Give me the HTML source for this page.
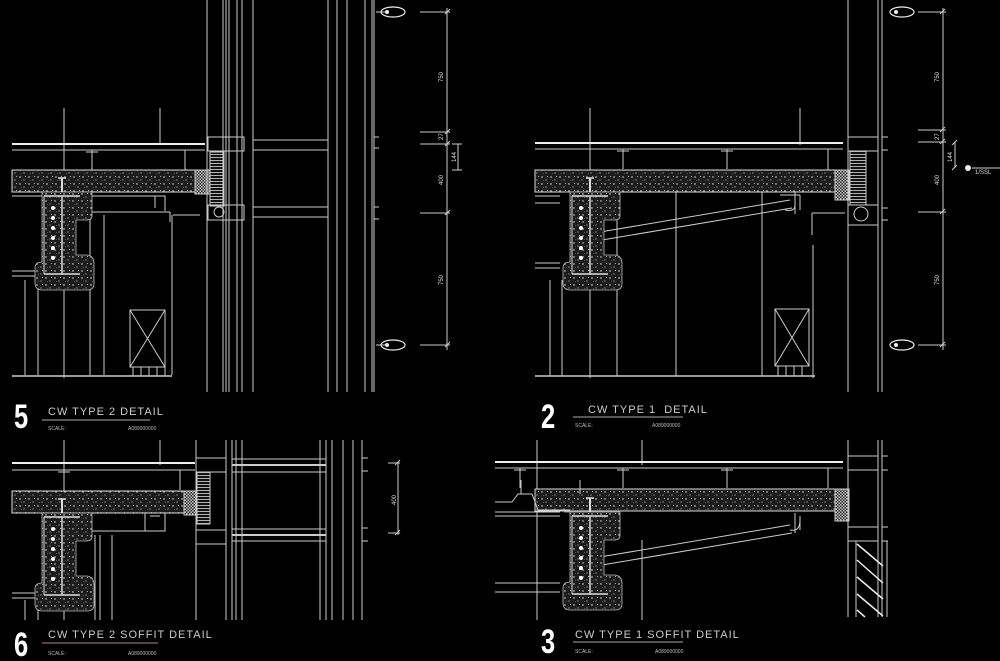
<!DOCTYPE html>
<html><head><meta charset="utf-8"><style>
html,body{margin:0;padding:0;background:#000;width:1000px;height:661px;overflow:hidden}
svg{display:block}
text{font-family:"Liberation Sans",sans-serif;fill:#ddd}
.n{font-family:"Liberation Sans",sans-serif;font-weight:bold;font-size:34px;fill:#fff}
.t{font-size:11px;letter-spacing:1px;fill:#ccc}
.s{font-size:5px;fill:#bbb}
.d{font-size:6px;fill:#bbb}
</style></head><body>
<svg width="1000" height="661" viewBox="0 0 1000 661" xmlns="http://www.w3.org/2000/svg">
<defs>
<pattern id="sp" width="9" height="7" patternUnits="userSpaceOnUse">
<rect width="9" height="7" fill="#1c1c1c"/>
<circle cx="2" cy="2" r="0.7" fill="#eee"/><circle cx="6" cy="5" r="0.6" fill="#bbb"/><circle cx="7.5" cy="1.5" r="0.5" fill="#ddd"/><circle cx="3.5" cy="5.5" r="0.4" fill="#999"/>
</pattern>
<pattern id="ck" width="3" height="3" patternUnits="userSpaceOnUse">
<rect width="3" height="3" fill="#222"/><rect width="1.5" height="1.5" fill="#ccc"/><rect x="1.5" y="1.5" width="1.5" height="1.5" fill="#ccc"/>
</pattern>
<pattern id="ins" width="4" height="3" patternUnits="userSpaceOnUse">
<rect width="4" height="3" fill="#111"/><line x1="0" y1="1.5" x2="4" y2="1.5" stroke="#ddd" stroke-width="0.8"/>
</pattern>
<g id="beam" stroke="#ddd" stroke-width="1" fill="none">
<path d="M-26,0 H30 V24 Q30,28 24,28 H14 V63 H24 Q32,63 32,72 V92 Q32,98 25,98 H-20 Q-27,98 -27,91 V76 Q-27,70 -20,70 V0" fill="url(#sp)" stroke="#bbb" stroke-width="0.8"/>
<line x1="-18" y1="4" x2="18" y2="4" stroke-width="1.5"/>
<line x1="0" y1="4" x2="0" y2="82" stroke-width="1.5"/>
<line x1="-18" y1="82" x2="18" y2="82" stroke-width="1.5"/>
<line x1="-18" y1="4" x2="-18" y2="82"/>
<g fill="#fff" stroke="none"><circle cx="-9" cy="16" r="2"/><circle cx="-9" cy="26" r="2"/><circle cx="-9" cy="36" r="2"/><circle cx="-9" cy="46" r="2"/><circle cx="-9" cy="56" r="2"/><circle cx="-9" cy="66" r="2"/></g>
<line x1="0" y1="-14" x2="0" y2="0" stroke-width="2"/><line x1="-4" y1="-14" x2="4" y2="-14" stroke-width="1.5"/>
</g>
<g id="oval"><ellipse cx="0" cy="0" rx="12" ry="5" fill="none" stroke="#eee" stroke-width="1.2"/><circle cx="-6" cy="0" r="2" fill="#eee"/></g>
</defs>

<g stroke="#ccc" stroke-width="1" fill="none">
<!-- ===== PANEL 5 ===== -->
<line x1="64" y1="108" x2="64" y2="378"/><line x1="160" y1="108" x2="160" y2="145"/>
<line x1="12" y1="144" x2="205" y2="144" stroke="#eee" stroke-width="2"/>
<line x1="12" y1="150" x2="205" y2="150"/>
<line x1="185" y1="150" x2="185" y2="170"/>
<path d="M92,150 v20 M86,152 h12"/>
<rect x="12" y="170" width="183" height="22" fill="url(#sp)" stroke="#ddd"/>
<rect x="195" y="170" width="15" height="24" fill="url(#ck)"/>
<path d="M12,196 H165 V211 M155,196 v12 M90,212 H170 M170,212 v10 M173,215 H200 M172,215 V250 M172,250 V375"/>
<line x1="12" y1="271" x2="40" y2="271"/><line x1="12" y1="276" x2="40" y2="276"/>
<line x1="25" y1="280" x2="25" y2="375"/><line x1="38" y1="280" x2="38" y2="375"/>
<line x1="90" y1="215" x2="90" y2="375"/><line x1="104" y1="215" x2="104" y2="375"/>
<use href="#beam" x="62" y="192"/>
<rect x="130" y="310" width="35" height="57"/><path d="M130,310 L165,367 M165,310 L130,367"/>
<path d="M133,367 v9 M141,367 v9 M149,367 v9 M157,367 v9 M165,367 v9"/>
<line x1="12" y1="376" x2="172" y2="376" stroke-width="1.5"/>
<rect x="208" y="137" width="36" height="14"/><rect x="210" y="152" width="14" height="54" fill="url(#ins)"/>
<rect x="208" y="205" width="36" height="15"/><circle cx="219" cy="212" r="5"/>
<line x1="207" y1="0" x2="207" y2="392"/><line x1="223" y1="0" x2="223" y2="392"/><line x1="226" y1="0" x2="226" y2="392"/>
<line x1="229" y1="0" x2="229" y2="392"/><line x1="237" y1="0" x2="237" y2="392"/><line x1="242" y1="0" x2="242" y2="392"/>
<line x1="253" y1="0" x2="253" y2="392"/>
<line x1="253" y1="140" x2="328" y2="140"/><line x1="253" y1="150" x2="328" y2="150"/>
<line x1="253" y1="207" x2="328" y2="207"/><line x1="253" y1="217" x2="328" y2="217"/>
<line x1="328" y1="0" x2="328" y2="392"/><line x1="337" y1="0" x2="337" y2="392"/><line x1="347" y1="0" x2="347" y2="392"/>
<line x1="365" y1="0" x2="365" y2="392"/><line x1="372" y1="0" x2="372" y2="392"/><line x1="374" y1="0" x2="374" y2="392"/>
<path d="M374,137 h5 M374,148 h5 M374,207 h5 M374,219 h5"/>
<line x1="385" y1="12" x2="376" y2="12"/><line x1="385" y1="345" x2="376" y2="345"/>
<line x1="447" y1="8" x2="447" y2="350"/>
<path d="M420,12 h30 M420,132 h30 M420,144 h30 M420,213 h30 M420,345 h30 M445,14 l5,-5 M445,134 l5,-5 M445,146 l5,-5 M445,215 l5,-5 M445,347 l5,-5"/>
<line x1="458" y1="144" x2="458" y2="170"/><path d="M452,144 h10 M452,170 h10"/>

<!-- ===== PANEL 2 ===== -->
<line x1="590" y1="108" x2="590" y2="378"/><line x1="800" y1="108" x2="800" y2="145"/>
<line x1="535" y1="143" x2="843" y2="143" stroke="#eee" stroke-width="2"/>
<line x1="535" y1="149" x2="843" y2="149"/>
<line x1="828" y1="149" x2="828" y2="170"/>
<path d="M623,149 v20 M617,151 h12 M727,149 v20 M721,151 h12"/>
<rect x="535" y="170" width="300" height="22" fill="url(#sp)" stroke="#ddd"/>
<rect x="835" y="170" width="14" height="30" fill="url(#ck)"/>
<path d="M535,196 H560 M535,203 H560 M795,192 v22 M780,195 H800 M800,195 v15 M812,213 H845 M812,213 V235 M813,245 V378"/>
<path d="M600,232 L790,200 M602,240 L792,208 M785,210 Q795,212 795,205"/>
<line x1="535" y1="263" x2="560" y2="263"/><line x1="535" y1="268" x2="560" y2="268"/>
<line x1="550" y1="280" x2="550" y2="376"/><line x1="562" y1="280" x2="562" y2="376"/>
<line x1="617" y1="200" x2="617" y2="376"/><line x1="676" y1="192" x2="676" y2="376"/><line x1="762" y1="192" x2="762" y2="376"/>
<use href="#beam" x="590" y="192"/>
<rect x="775" y="309" width="34" height="57"/><path d="M775,309 L809,366 M809,309 L775,366"/>
<path d="M778,366 v10 M786,366 v10 M794,366 v10 M802,366 v10"/>
<line x1="535" y1="376" x2="815" y2="376" stroke-width="1.5"/>
<rect x="848" y="137" width="30" height="14"/><rect x="850" y="151" width="16" height="54" fill="url(#ins)"/>
<rect x="848" y="205" width="30" height="20"/><circle cx="861" cy="214" r="7"/>
<line x1="848" y1="0" x2="848" y2="392"/><line x1="878" y1="0" x2="878" y2="392"/><line x1="882" y1="0" x2="882" y2="392"/>
<path d="M882,137 h6 M882,150 h6 M882,208 h6 M882,220 h6"/>
<line x1="943" y1="8" x2="943" y2="350"/>
<path d="M918,12 h28 M918,130 h28 M918,142 h28 M918,212 h28 M918,345 h28 M940,14 l5,-5 M940,132 l5,-5 M940,144 l5,-5 M940,214 l5,-5 M940,347 l5,-5"/>
<line x1="955" y1="142" x2="955" y2="168"/><path d="M952,145 l5,-5 M952,170 l5,-5"/>
<line x1="972" y1="168" x2="1000" y2="168"/>

<!-- ===== PANEL 6 ===== -->
<line x1="64" y1="440" x2="64" y2="620"/><line x1="160" y1="440" x2="160" y2="465"/>
<line x1="12" y1="463" x2="195" y2="463" stroke="#eee" stroke-width="2"/>
<line x1="12" y1="470" x2="195" y2="470"/>
<line x1="180" y1="470" x2="180" y2="490"/>
<path d="M64,470 v20 M58,472 h12"/>
<rect x="12" y="491" width="172" height="22" fill="url(#sp)" stroke="#ddd"/>
<rect x="184" y="491" width="12" height="24" fill="url(#ck)"/>
<rect x="197" y="472" width="13" height="52" fill="url(#ins)"/>
<rect x="196" y="458" width="30" height="14"/><rect x="196" y="530" width="30" height="14"/>
<path d="M145,513 v18 H165 V513 M150,516 H160 M90,531 H150"/>
<line x1="12" y1="593" x2="40" y2="593"/><line x1="12" y1="598" x2="40" y2="598"/>
<line x1="25" y1="600" x2="25" y2="620"/><line x1="38" y1="600" x2="38" y2="620"/>
<line x1="95" y1="535" x2="95" y2="620"/><line x1="100" y1="535" x2="100" y2="620"/><line x1="112" y1="535" x2="112" y2="620"/>
<use href="#beam" x="62" y="513"/>
<line x1="196" y1="440" x2="196" y2="620"/><line x1="226" y1="440" x2="226" y2="620"/><line x1="232" y1="440" x2="232" y2="620"/>
<line x1="236" y1="440" x2="236" y2="620"/><line x1="242" y1="440" x2="242" y2="620"/>
<line x1="232" y1="459" x2="326" y2="459"/><line x1="232" y1="465" x2="326" y2="465" stroke-width="2"/><line x1="232" y1="472" x2="326" y2="472"/>
<line x1="232" y1="529" x2="326" y2="529"/><line x1="232" y1="535" x2="326" y2="535" stroke-width="2"/><line x1="232" y1="541" x2="326" y2="541"/>
<line x1="320" y1="440" x2="320" y2="620"/><line x1="326" y1="440" x2="326" y2="620"/><line x1="332" y1="440" x2="332" y2="620"/>
<line x1="343" y1="440" x2="343" y2="620"/><line x1="353" y1="440" x2="353" y2="620"/><line x1="362" y1="440" x2="362" y2="620"/>
<path d="M362,458 h6 M362,471 h6 M362,528 h6 M362,541 h6"/>
<line x1="398" y1="462" x2="398" y2="535"/>
<path d="M388,463 h12 M388,533 h12 M395,465 l5,-5 M395,535 l5,-5"/>

<!-- ===== PANEL 3 ===== -->
<line x1="537" y1="440" x2="537" y2="620"/><line x1="642" y1="440" x2="642" y2="465"/>
<line x1="495" y1="462" x2="843" y2="462" stroke="#eee" stroke-width="2"/>
<line x1="495" y1="468" x2="843" y2="468"/>
<line x1="828" y1="468" x2="828" y2="488"/>
<path d="M520,468 v20 M514,470 h12 M623,468 v20 M617,470 h12 M727,468 v20 M721,470 h12"/>
<rect x="535" y="489" width="300" height="22" fill="url(#sp)" stroke="#ddd"/>
<rect x="835" y="489" width="14" height="32" fill="url(#ck)"/>
<path d="M495,502 H512 L518,494 H532 L538,510 H570 M521,494 v-14 M580,494 v-14 M495,512 H560 M495,516 H560"/>
<path d="M600,557 L790,525 M602,565 L792,533 M795,513 v20 M790,530 Q800,532 800,520 M800,516 V530"/>
<line x1="495" y1="583" x2="560" y2="583"/><line x1="495" y1="592" x2="560" y2="592"/>
<line x1="537" y1="600" x2="537" y2="620"/><line x1="642" y1="540" x2="642" y2="620"/>
<use href="#beam" x="590" y="512"/>
<rect x="848" y="456" width="30" height="14"/><rect x="848" y="527" width="30" height="14"/>
<line x1="848" y1="440" x2="848" y2="617"/><line x1="878" y1="440" x2="878" y2="617"/><line x1="882" y1="440" x2="882" y2="617"/>
<line x1="856" y1="541" x2="856" y2="617"/><line x1="887" y1="541" x2="887" y2="617"/>
<path d="M882,456 h6 M882,470 h6 M882,527 h6 M882,541 h6"/>
<g stroke="#eee" stroke-width="1.5"><path d="M857,544 L883,566 M857,560 L883,583 M857,577 L883,599 M857,594 L883,616 M857,610 L865,617"/></g>

<line x1="42" y1="420" x2="150" y2="420" stroke="#aaa"/>
<line x1="573" y1="417" x2="683" y2="417" stroke="#aaa"/>
<line x1="42" y1="643" x2="158" y2="643" stroke="#a88"/>
<line x1="573" y1="642" x2="683" y2="642" stroke="#aaa"/>
</g>

<use href="#oval" x="393" y="12"/><use href="#oval" x="393" y="345"/>
<use href="#oval" x="902" y="12"/><use href="#oval" x="902" y="345"/>
<circle cx="968" cy="168" r="3" fill="#eee"/>

<g class="d">
<text transform="translate(443,82) rotate(-90)">750</text>
<text transform="translate(443,185) rotate(-90)">400</text>
<text transform="translate(443,285) rotate(-90)">750</text>
<text transform="translate(456,162) rotate(-90)">144</text>
<text transform="translate(443,140) rotate(-90)">27</text>
<text transform="translate(939,82) rotate(-90)">750</text>
<text transform="translate(939,185) rotate(-90)">400</text>
<text transform="translate(939,285) rotate(-90)">750</text>
<text transform="translate(952,162) rotate(-90)">144</text>
<text transform="translate(939,140) rotate(-90)">27</text>
<text x="975" y="174">1/SSL</text>
<text transform="translate(396,505) rotate(-90)">400</text>
</g>

<text class="n" transform="translate(14,428) scale(0.75,1)">5</text>
<text class="t" x="48" y="415">CW TYPE 2 DETAIL</text>
<text class="s" x="48" y="430">SCALE:</text><text class="s" x="128" y="430">A089000000</text>

<text class="n" transform="translate(541,428) scale(0.75,1)">2</text>
<text class="t" x="588" y="413">CW TYPE 1&#160; DETAIL</text>
<text class="s" x="575" y="427">SCALE:</text><text class="s" x="652" y="427">A089000000</text>

<text class="n" transform="translate(14,656) scale(0.75,1)">6</text>
<text class="t" x="48" y="638">CW TYPE 2 SOFFIT DETAIL</text>
<text class="s" x="48" y="655">SCALE:</text><text class="s" x="128" y="655">A089000000</text>

<text class="n" transform="translate(541,653) scale(0.75,1)">3</text>
<text class="t" x="575" y="638">CW TYPE 1 SOFFIT DETAIL</text>
<text class="s" x="575" y="653">SCALE:</text><text class="s" x="655" y="653">A089000000</text>
</svg>
</body></html>
